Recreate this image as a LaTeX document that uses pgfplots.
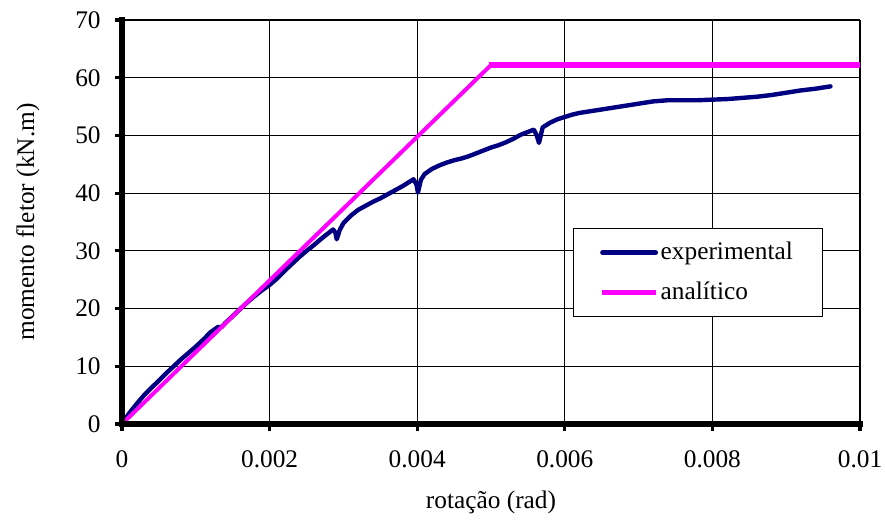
\documentclass[border=0pt]{standalone}
\usepackage{fontspec}
\setmainfont{Liberation Serif}
\usepackage{pgfplots}
\pgfplotsset{compat=1.18}
\definecolor{navyexp}{RGB}{0,0,128}
\definecolor{magan}{RGB}{255,0,255}
\begin{document}
\begin{tikzpicture}
\fontsize{19}{22}\selectfont
\begin{axis}[
  scale only axis,
  width=553.5pt, height=303pt,
  xmin=0, xmax=0.01, ymin=0, ymax=70,
  xtick={0,0.002,0.004,0.006,0.008,0.01},
  xticklabels={0,0.002,0.004,0.006,0.008,0.01},
  scaled x ticks=false,
  ytick={0,10,...,70},
  grid=major,
  grid style={black, line width=0.9pt},
  axis x line*=bottom, axis y line*=left,
  axis line style={black, line width=4.5pt},
  tick align=outside,
  major tick length=5.5pt,
  tick style={black, line width=2.4pt},
  /pgf/number format/assume math mode=true,
  ticklabel style={font=\fontsize{19}{22}\selectfont},
  yticklabel style={xshift=-4pt},
  xticklabel style={yshift=-8pt},
  xlabel={rotação (rad)},
  ylabel={momento fletor (kN.m)},
  label style={font=\fontsize{19}{22}\selectfont},
  xlabel style={at={(axis description cs:0.5,-0.195)}, anchor=center},
  ylabel style={at={(axis description cs:-0.1274,0.5)}, anchor=center, rotate=0},
  legend style={at={(rel axis cs:0.611,0.485)}, anchor=north west,
    draw=black, line width=0.9pt, font=\fontsize{19}{22}\selectfont,
    inner xsep=20pt, inner ysep=8pt, row sep=10pt},
  legend cell align=left,
  legend image code/.code={\draw[#1, line width=3.4pt] (0pt,0pt) -- (40pt,0pt);},
  clip=false,
]
\addplot[navyexp, line width=3.3pt, line join=round, line cap=round] coordinates {
(0,0) (0.0001,1.9) (0.0002,3.5) (0.0003,5.0) (0.0004,6.3) (0.0005,7.5)
(0.0006,8.8) (0.0007,10.0) (0.0008,11.2) (0.0009,12.3) (0.0010,13.4)
(0.0011,14.6) (0.0012,15.9) (0.0013,16.8) (0.00135,16.8) (0.0014,17.5)
(0.0015,18.7) (0.0016,19.9) (0.0017,21.1) (0.0018,22.2) (0.0019,23.2)
(0.0020,24.1) (0.0021,25.2) (0.0022,26.5) (0.0023,27.7) (0.0024,28.9)
(0.0025,30.0) (0.0026,31.0) (0.0027,32.1) (0.0028,33.1) (0.00286,33.7)
(0.00289,33.2) (0.00291,32.0) (0.00295,33.6) (0.0030,34.8) (0.0031,36.1)
(0.0032,37.1) (0.0033,37.8) (0.0034,38.5) (0.0035,39.1) (0.0036,39.8)
(0.0037,40.5) (0.0038,41.2) (0.0039,42.0) (0.00395,42.4) (0.00399,41.5)
(0.00401,40.1) (0.00405,42.3) (0.0041,43.3) (0.0042,44.2) (0.0043,44.8)
(0.0044,45.3) (0.0045,45.7) (0.0046,46.0) (0.0047,46.4) (0.0048,46.9)
(0.0049,47.4) (0.0050,47.9) (0.0051,48.3) (0.0052,48.8) (0.0053,49.4)
(0.0054,50.1) (0.0055,50.6) (0.00558,51.0) (0.00562,50.0) (0.00565,48.7)
(0.00568,50.3) (0.0057,51.4) (0.0058,52.2) (0.0059,52.8) (0.0060,53.2)
(0.0061,53.6) (0.0062,53.9) (0.0063,54.1) (0.0064,54.3) (0.0066,54.7)
(0.0068,55.1) (0.0070,55.5) (0.0072,55.9) (0.0074,56.1) (0.0076,56.1)
(0.0078,56.1) (0.0080,56.2) (0.0082,56.3) (0.0084,56.5) (0.0086,56.7)
(0.0088,57.0) (0.0090,57.4) (0.0092,57.8) (0.0094,58.1) (0.0096,58.5)
};
\addlegendentry{experimental}
\addplot[magan, line width=3.0pt] coordinates {
(0,0) (0.005,62.2) (0.01,62.2)
};
\addlegendentry{analítico}
\addplot[magan, line width=4.6pt, forget plot] coordinates {
(0.00497,62.2) (0.01,62.2)
};
\draw[black, line width=4.5pt, line cap=rect] (rel axis cs:0,1) -- (rel axis cs:0,0) -- (rel axis cs:1,0);
\coordinate (ll) at (rel axis cs:0,0);
\coordinate (ur) at (rel axis cs:1,1);
\end{axis}
\pgfresetboundingbox
\path ([shift={(-91.5pt,-74.25pt)}]ll) rectangle ([shift={(18.75pt,15pt)}]ur);
\end{tikzpicture}
\end{document}
